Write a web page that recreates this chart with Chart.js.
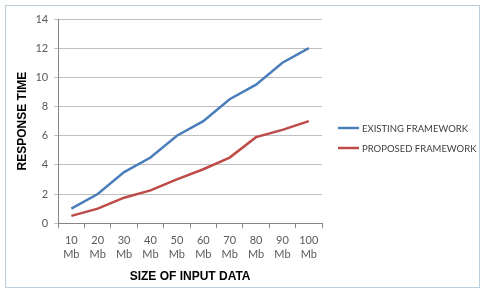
<!DOCTYPE html>
<html>
<head>
<meta charset="utf-8">
<script src="https://cdn.jsdelivr.net/npm/chart.js@4/dist/chart.umd.min.js"></script>
<style>
  body { margin: 0; background: #fff; }
  #frame { position: absolute; left: 5px; top: 5px; width: 473px; height: 281px; border: 1px solid #b9cfdb; }
  #wrap { position: absolute; left: 0; top: 0; width: 485px; height: 294px; }
</style>
</head>
<body>
<div id="frame"></div>
<div id="wrap"><canvas id="myChart" width="485" height="294"></canvas></div>
<script>
// data
const sizes = [['10','Mb'],['20','Mb'],['30','Mb'],['40','Mb'],['50','Mb'],['60','Mb'],['70','Mb'],['80','Mb'],['90','Mb'],['100','Mb']];
const existing = [1, 2, 3.5, 4.5, 6, 7, 8.5, 9.5, 11, 12];
const proposed = [0.5, 1, 1.75, 2.25, 3, 3.7, 4.5, 5.9, 6.4, 7];
const seriesNames = ['EXISTING FRAMEWORK', 'PROPOSED FRAMEWORK'];
const seriesColors = ['#4a7ebb', '#be4b48'];

// legend drawn by hand to the right of the plot
const sideLegend = {
    id: 'sideLegend',
    afterDraw(chart) {
        const ctx = chart.ctx;
        ctx.save();
        ctx.font = '9.5px Lato, "Open Sans", sans-serif';
        ctx.textBaseline = 'middle';
        chart.data.datasets.forEach(function(ds, i) {
            const y = 128 + i * 20;
            ctx.strokeStyle = ds.borderColor;
            ctx.lineWidth = 2.5;
            ctx.beginPath();
            ctx.moveTo(338, y);
            ctx.lineTo(359, y);
            ctx.stroke();
            ctx.fillStyle = '#404040';
            ctx.fillText(ds.label, 362, y + 0.5);
        });
        ctx.restore();
    }
};

new Chart('myChart', {
    type: 'line',
    data: {
        labels: sizes,
        datasets: [{
            label: seriesNames[0],
            data: existing,
            borderColor: seriesColors[0],
            borderWidth: 2.5,
            pointRadius: 0,
            tension: 0
        }, {
            label: seriesNames[1],
            data: proposed,
            borderColor: seriesColors[1],
            borderWidth: 2.5,
            pointRadius: 0,
            tension: 0
        }]
    },
    options: {
        responsive: false,
        animation: false,
        layout: { padding: { left: 15, top: 19, right: 163, bottom: 6 } },
        plugins: {
            legend: { display: false },
            tooltip: { enabled: false }
        },
        scales: {
            x: {
                offset: true,
                grid: { offset: true, drawOnChartArea: false, drawTicks: true, tickLength: 5, color: '#868686' },
                border: { color: '#868686' },
                ticks: { color: '#595959', font: { size: 11, family: 'Lato, "Open Sans", sans-serif' }, maxRotation: 0, padding: 6 },
                title: {
                    display: true,
                    text: 'SIZE OF INPUT DATA',
                    color: '#000',
                    font: { size: 12, weight: 'bold', family: '"Liberation Sans", Arial, sans-serif' },
                    padding: { top: 3 }
                }
            },
            y: {
                min: 0,
                max: 14,
                ticks: { stepSize: 2, color: '#595959', font: { size: 11, family: 'Lato, "Open Sans", sans-serif' }, padding: 6 },
                grid: { color: '#bfbfbf', tickLength: 4 },
                border: { color: '#868686' },
                title: {
                    display: true,
                    text: 'RESPONSE TIME',
                    color: '#000',
                    font: { size: 12, weight: 'bold', family: '"Liberation Sans", Arial, sans-serif' },
                    padding: { top: 0, bottom: 0 }
                }
            }
        }
    },
    plugins: [sideLegend]
});
</script>
</body>
</html>
